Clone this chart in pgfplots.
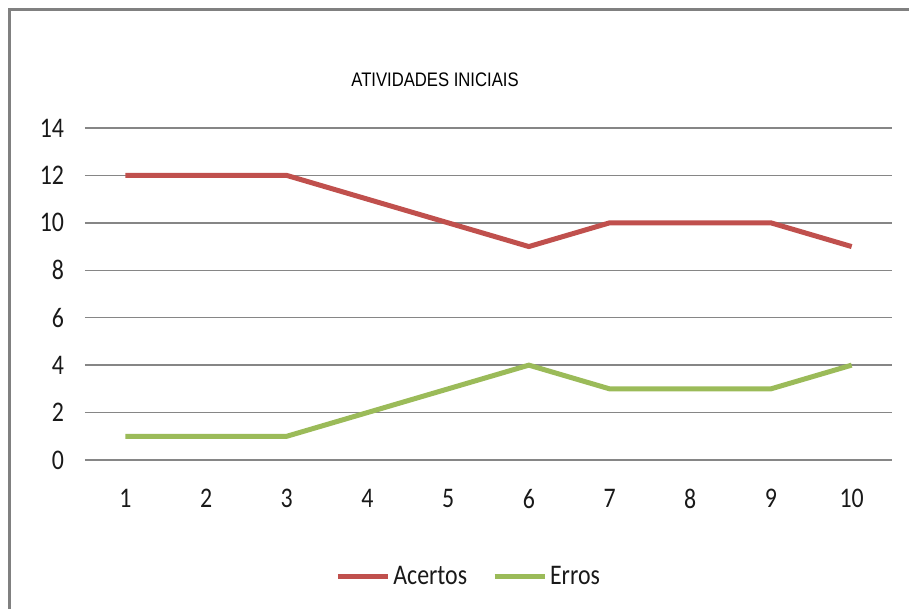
\documentclass[border=0pt]{standalone}
\usepackage{fontspec}
\setmainfont{Carlito}
\newfontfamily\tickfont[FakeStretch=0.84]{Carlito}
\newfontfamily\titlefont[FakeStretch=0.85]{Liberation Sans}
\usepackage{pgfplots}
\pgfplotsset{compat=1.18}

\definecolor{acertos}{RGB}{192,80,77}
\definecolor{erros}{RGB}{155,187,89}
\definecolor{gridgray}{RGB}{134,134,134}
\definecolor{framegray}{RGB}{128,128,128}

\begin{document}
\begin{tikzpicture}
  % page is 909x609 px at 0.5pt per px
  \path[use as bounding box] (0,0) rectangle (454.5pt,304.5pt);
  \draw[framegray, line width=1.5pt] (4.5pt,-2pt) -- (4.5pt,299.5pt) -- (458pt,299.5pt);
  \node[font=\titlefont\fontsize{9.8}{11}\selectfont, text=black] at (217.5pt,264.5pt) {ATIVIDADES INICIAIS};

  \begin{axis}[
    at={(42.5pt,74.5pt)},
    anchor=south west,
    scale only axis,
    width=403.5pt,
    height=166pt,
    xmin=0.5, xmax=10.5,
    ymin=0, ymax=14,
    xtick={1,...,10},
    ytick={0,2,...,14},
    ymajorgrids,
    grid style={gridgray, line width=0.75pt},
    axis line style={draw=none},
    tick style={draw=none},
    /pgf/number format/assume math mode=true,
    ticklabel style={font=\tickfont\fontsize{14.2}{15}\selectfont, text=black!90},
    yticklabel style={xshift=-7pt},
    xticklabel style={yshift=-11pt},
    legend columns=2,
    legend style={
      at={(0.476,-0.352)}, anchor=center, draw=none, fill=none,
      font=\tickfont\fontsize{14.2}{15}\selectfont, text=black!90,
      /tikz/every even column/.append style={column sep=11pt},
      nodes={inner sep=1.5pt}
    },
    legend image code/.code={\draw[#1] (0pt,0pt) -- (25pt,0pt);},
  ]
    \addplot[acertos, line width=2.5pt] coordinates {
      (1,12) (2,12) (3,12) (4,11) (5,10) (6,9) (7,10) (8,10) (9,10) (10,9)
    };
    \addplot[erros, line width=2.5pt] coordinates {
      (1,1) (2,1) (3,1) (4,2) (5,3) (6,4) (7,3) (8,3) (9,3) (10,4)
    };
    \legend{Acertos, Erros}
  \end{axis}
\end{tikzpicture}
\end{document}
